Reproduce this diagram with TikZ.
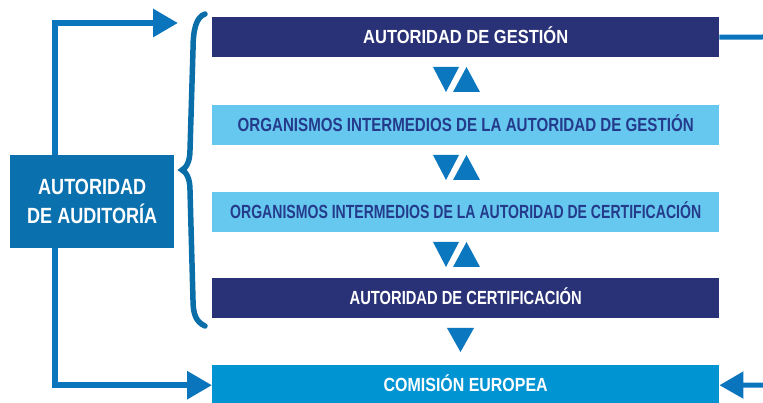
\documentclass[tikz,border=0pt]{standalone}
\usepackage{fontspec}
\setmainfont{Liberation Sans}
\usetikzlibrary{arrows.meta}
\definecolor{navy}{HTML}{2A3277}
\definecolor{lblue}{HTML}{66C8EE}
\definecolor{ltext}{HTML}{243B8C}
\definecolor{cblue}{HTML}{0094D3}
\definecolor{audblue}{HTML}{0B70AE}
\definecolor{lineblue}{HTML}{0A74BC}
\definecolor{braceblue}{HTML}{0A6FA8}
\definecolor{triblue}{HTML}{0A77BF}
\newcommand{\fw}[2]{\resizebox{#1}{\height}{#2}}
\begin{document}
\begin{tikzpicture}[x=1pt,y=-1pt,
  bar/.style={minimum width=507pt, minimum height=40pt, inner sep=0pt, anchor=north west,
    text height=13.5pt, text depth=0pt, font=\bfseries\fontsize{19}{21}\selectfont},
  darkbar/.style={bar, fill=navy, text=white},
  lightbar/.style={bar, fill=lblue, text=ltext},
  flow/.style={draw=lineblue, line width=6pt},
  bigtip/.style={-{Triangle[length=25pt,width=27pt]}},
  tri/.style={fill=triblue},
]
\useasboundingbox (0,0) rectangle (763,403);

\node[darkbar] (ag) at (212,17) {\fw{205pt}{AUTORIDAD DE GESTIÓN}};
\node[lightbar] (oig) at (212,105) {\fw{456pt}{ORGANISMOS INTERMEDIOS DE LA AUTORIDAD DE GESTIÓN}};
\node[lightbar] (oic) at (212,192) {\fw{471pt}{ORGANISMOS INTERMEDIOS DE LA AUTORIDAD DE CERTIFICACIÓN}};
\node[darkbar] (ac) at (212,278) {\fw{232pt}{AUTORIDAD DE CERTIFICACIÓN}};
\node[bar, fill=cblue, text=white] (ce) at (212,365) {\fw{164pt}{COMISIÓN EUROPEA}};

\node[anchor=north west, minimum width=164pt, minimum height=93pt, inner sep=0pt,
      fill=audblue, text=white, align=center,
      font=\bfseries\fontsize{22}{29}\selectfont] (aud) at (10,155)
      {\fw{108pt}{AUTORIDAD}\\\fw{130pt}{DE AUDITORÍA}};

% brace
\draw[braceblue, line width=5.5pt, line cap=round]
  (205,14) .. controls (196,17) and (193,30) .. (193,50)
  -- (190,150) .. controls (190,162) and (186,168) .. (182,170)
  .. controls (186,172) and (190,178) .. (190,190)
  -- (193,300) .. controls (193,314) and (196,322) .. (205,326);

% flows
\coordinate (bt) at (178,23);
\draw[flow, bigtip] ([xshift=45pt]aud.north west) |- (bt);
\draw[flow, bigtip] ([xshift=45pt]aud.south west) |- (ce.west);
\coordinate (r1) at (763,37);
\draw[flow, line width=5pt] (ag.east) -- (r1);
\coordinate (r2) at (763,385);
\draw[flow, line width=5pt, -{Triangle[length=24pt,width=26pt]}] (r2) -- (ce.east);

% triangles
\foreach \y in {67,155,242} {
  \fill[tri] (433,\y) -- (459,\y) -- (446,\y+25) -- cycle;
  \fill[tri] (453,\y+25) -- (480,\y+25) -- (466.5,\y) -- cycle;
}
\fill[tri] (447,328) -- (474,328) -- (460.5,352) -- cycle;
\end{tikzpicture}
\end{document}
